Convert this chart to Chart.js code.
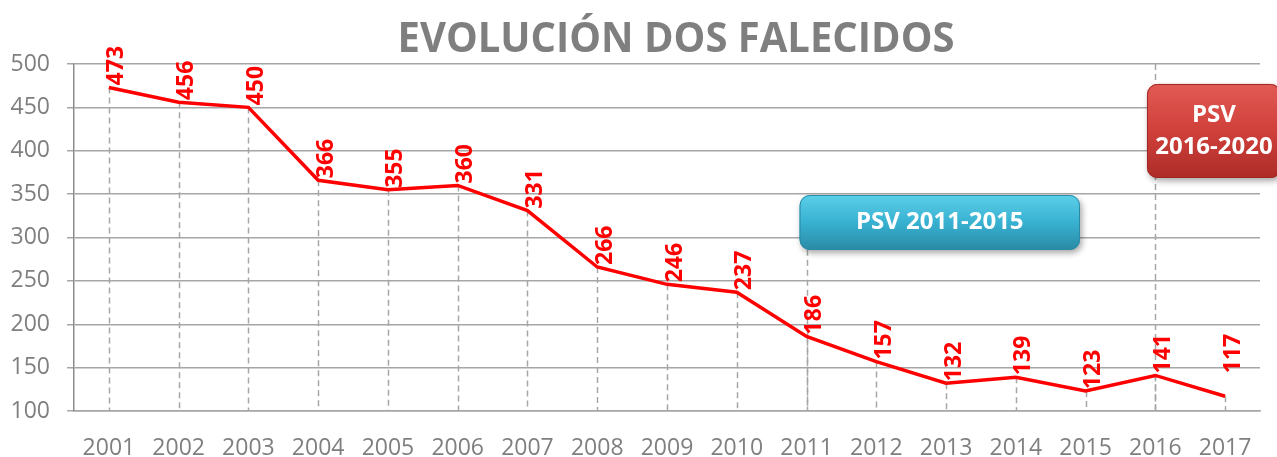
<!DOCTYPE html>
<html>
<head>
<meta charset="utf-8">
<script src="https://cdn.jsdelivr.net/npm/chart.js@4.4.0/dist/chart.umd.min.js"></script>
<style>
  html, body { margin: 0; padding: 0; background: #fff; }
</style>
</head>
<body>
<canvas id="myChart" width="1277" height="457"></canvas>
<script>
const titulo = 'EVOLUCIÓN DOS FALECIDOS';
const anos = ['2001', '2002', '2003', '2004', '2005', '2006', '2007', '2008', '2009',
              '2010', '2011', '2012', '2013', '2014', '2015', '2016', '2017'];
const falecidos = [473, 456, 450, 366, 355, 360, 331, 266, 246, 237, 186, 157, 132, 139, 123, 141, 117];
const ticksY = [100, 150, 200, 250, 300, 350, 400, 450, 500];
const planos = [['PSV 2011-2015'], ['PSV', '2016-2020']];

const gris = '#7f7f7f';
const fonte = '"Open Sans", "Liberation Sans", sans-serif';

// linhas de chamada, caixas dos planos, rótulos e título
const extras = {
    id: 'extras',
    beforeDatasetsDraw(chart, args, opts) {
        const {ctx, scales: {x, y}} = chart;
        const base = y.getPixelForValue(ticksY[0]);
        ctx.save();
        ctx.strokeStyle = '#a6a6a6';
        ctx.lineWidth = 1.5;
        ctx.setLineDash([6, 4]);
        falecidos.forEach((v, i) => {
            const px = Math.round(x.getPixelForValue(i)) + 0.5;
            ctx.beginPath();
            ctx.moveTo(px, y.getPixelForValue(v));
            ctx.lineTo(px, base);
            ctx.stroke();
        });
        opts.guias.forEach(g => {
            const px = Math.round(x.getPixelForValue(g.idx)) + 0.5;
            ctx.beginPath();
            ctx.moveTo(px, y.getPixelForValue(g.top));
            ctx.lineTo(px, base);
            ctx.stroke();
        });
        ctx.restore();
    },
    afterDatasetsDraw(chart, args, opts) {
        const {ctx, scales: {x, y}} = chart;
        // caixas
        opts.caixas.forEach((c, k) => {
            const l = x.getPixelForValue(c.x0), r = x.getPixelForValue(c.x1);
            const t = y.getPixelForValue(c.y1), b = y.getPixelForValue(c.y0);
            ctx.save();
            ctx.shadowColor = 'rgba(0,0,0,0.35)';
            ctx.shadowBlur = 6;
            ctx.shadowOffsetX = 2;
            ctx.shadowOffsetY = 3;
            const g = ctx.createLinearGradient(0, t, 0, b);
            g.addColorStop(0, c.cores[0]);
            g.addColorStop(0.5, c.cores[1]);
            g.addColorStop(1, c.cores[2]);
            ctx.fillStyle = g;
            ctx.beginPath();
            ctx.roundRect(l, t, r - l, b - t, 10);
            ctx.fill();
            ctx.restore();
            ctx.save();
            ctx.strokeStyle = c.borda;
            ctx.lineWidth = 1;
            ctx.beginPath();
            ctx.roundRect(l + 0.5, t + 0.5, r - l - 1, b - t - 1, 10);
            ctx.stroke();
            ctx.fillStyle = '#fff';
            ctx.font = 'bold 24px ' + fonte;
            ctx.textAlign = 'center';
            ctx.textBaseline = 'middle';
            const linhas = planos[k];
            const cx = (l + r) / 2, cy = (t + b) / 2;
            linhas.forEach((s, j) => {
                ctx.fillText(s, cx, cy + (j - (linhas.length - 1) / 2) * 32);
            });
            ctx.restore();
        });
        // rótulos verticais
        ctx.save();
        ctx.fillStyle = '#ff0000';
        ctx.font = 'bold 23px ' + fonte;
        ctx.textAlign = 'left';
        ctx.textBaseline = 'middle';
        falecidos.forEach((v, i) => {
            const px = x.getPixelForValue(i) + 8;
            const py = y.getPixelForValue(v) - 2 - (opts.subir[i] || 0);
            ctx.save();
            ctx.translate(px, py);
            ctx.rotate(-Math.PI / 2);
            ctx.fillText(String(v), 0, 0);
            ctx.restore();
        });
        ctx.restore();
    },
    afterDraw(chart) {
        const {ctx} = chart;
        ctx.save();
        ctx.font = 'bold 42px ' + fonte;
        ctx.fillStyle = gris;
        ctx.textBaseline = 'alphabetic';
        ctx.textAlign = 'center';
        const w = ctx.measureText(titulo).width;
        ctx.translate(676, 52);
        ctx.scale(557 / w, 1);
        ctx.fillText(titulo, 0, 0);
        ctx.restore();
    }
};

new Chart(document.getElementById('myChart'), {
    type: 'line',
    data: {
        labels: anos,
        datasets: [{
            data: falecidos,
            borderColor: '#ff0000',
            borderWidth: 3.5,
            pointRadius: 0,
            tension: 0,
            fill: false
        }]
    },
    options: {
        responsive: false,
        animation: false,
        layout: { padding: { top: 64, right: 17, left: 0, bottom: 0 } },
        plugins: {
            legend: { display: false },
            tooltip: { enabled: false },
            title: { display: false },
            extras: {
                guias: [{ idx: 10, top: 286 }, { idx: 15, top: 500 }],
                caixas: [
                    { x0: 9.9, x1: 13.92, y0: 285.6, y1: 349, cores: ['#5ccfe9', '#38b1d1', '#2a8aa5'], borda: '#2a8aa5' },
                    { x0: 14.88, x1: 16.8, y0: 368.6, y1: 477, cores: ['#e25a54', '#d0403b', '#ad2c28'], borda: '#a02824' }
                ],
                subir: { 16: 21 }
            }
        },
        scales: {
            x: {
                offset: true,
                grid: { display: false },
                border: { display: true, color: '#a6a6a6', width: 1.5 },
                ticks: { color: gris, font: { family: fonte, size: 23 }, padding: 16, maxRotation: 0 },
                afterFit: s => { s.height = 46; }
            },
            y: {
                min: 100,
                max: 500,
                afterBuildTicks: s => { s.ticks = ticksY.map(v => ({ value: v })); },
                grid: { color: '#a6a6a6', lineWidth: 1.5, drawTicks: true, tickLength: 7, tickColor: '#a6a6a6' },
                border: { display: true, color: '#8c8c8c', width: 1.5 },
                ticks: { color: gris, font: { family: fonte, size: 23 }, padding: 17 },
                afterFit: s => { s.width = 74; }
            }
        }
    },
    plugins: [extras]
});
</script>
</body>
</html>
